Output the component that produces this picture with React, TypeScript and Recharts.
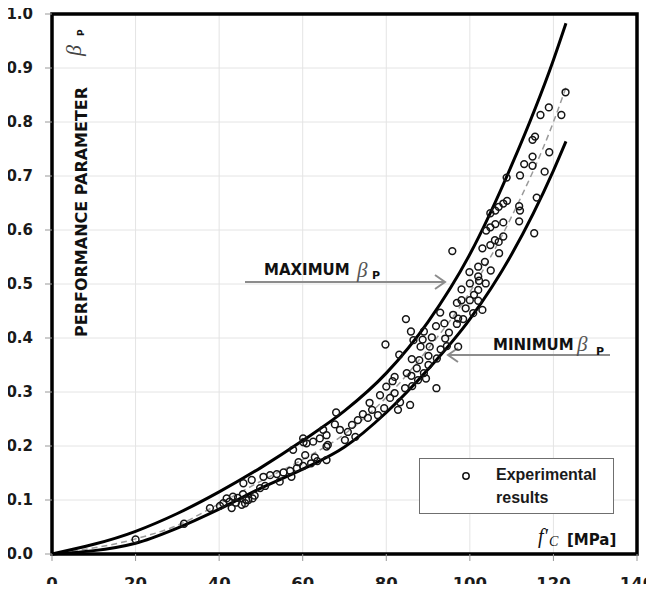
import {
  ComposedChart,
  Line,
  Scatter,
  XAxis,
  YAxis,
  CartesianGrid,
  ReferenceArea,
  Legend,
  Customized,
} from 'recharts';

// f'c [MPa] where the bounding curves were read
const curveFc = [0, 20, 30, 40, 50, 60, 70, 80, 90, 100, 110, 120, 123];
const maxBeta = [0, 0.042, 0.075, 0.115, 0.16, 0.21, 0.265, 0.335, 0.43, 0.555, 0.72, 0.915, 0.983];
const minBeta = [0, 0.02, 0.048, 0.083, 0.122, 0.157, 0.198, 0.262, 0.342, 0.435, 0.555, 0.71, 0.764];
const meanBeta = [0, 0.028, 0.053, 0.093, 0.135, 0.175, 0.222, 0.29, 0.38, 0.485, 0.625, 0.8, 0.864];

// experimental results [f'c, beta_P]
const experimental: [number, number][] = [
  [20, 0.027], [31.6, 0.056], [37.8, 0.085], [40.2, 0.089], [41, 0.094], [41.8, 0.103], [42.5, 0.097],
  [43, 0.085], [43.3, 0.106], [44, 0.095], [44.5, 0.104], [45.4, 0.091], [45.7, 0.111], [46.2, 0.094],
  [46.5, 0.1], [47, 0.1], [48, 0.103], [45.8, 0.131], [47.8, 0.137], [48.5, 0.108], [49.8, 0.122],
  [51, 0.126], [50.6, 0.143], [52.2, 0.146], [53.8, 0.148], [55.4, 0.151], [57, 0.154], [58.6, 0.159],
  [60.1, 0.163], [54.5, 0.134], [57.3, 0.143], [59, 0.17], [62, 0.168], [63.5, 0.172], [57.7, 0.193],
  [60.1, 0.214], [60.2, 0.207], [60.9, 0.205], [62.5, 0.208], [64.1, 0.214], [65.7, 0.22], [64.9, 0.23],
  [60.6, 0.183], [62.9, 0.179], [65.7, 0.174], [65.7, 0.199],
  [66, 0.202], [67.7, 0.24], [68.9, 0.23], [70.1, 0.211], [70.8, 0.226], [71.8, 0.239], [72.6, 0.217],
  [73.2, 0.248], [74.4, 0.259], [75.6, 0.252], [76.6, 0.267], [78, 0.257], [79.5, 0.27], [78.5, 0.294],
  [80.9, 0.289], [82, 0.298], [83.3, 0.281], [84.5, 0.307], [86.2, 0.311], [87.6, 0.322], [85.7, 0.276],
  [82.8, 0.267], [68, 0.262], [76, 0.28], [80, 0.31], [81.5, 0.32], [92, 0.307], [89, 0.335], [89.5, 0.325],
  [86, 0.33],
  [79.8, 0.388], [82, 0.328], [83.1, 0.369], [84.7, 0.435], [84.9, 0.335], [85.9, 0.412], [86.1, 0.361],
  [86.5, 0.396], [87.3, 0.344], [87.9, 0.359], [88.2, 0.384], [88.7, 0.397], [89, 0.412], [90.1, 0.367],
  [90.1, 0.35], [90.4, 0.384], [90.9, 0.401], [91.9, 0.422], [92.1, 0.362], [92.9, 0.447], [93, 0.379],
  [93.9, 0.427], [94.1, 0.399], [94.5, 0.385], [95, 0.41], [95.8, 0.561], [96, 0.443], [96.9, 0.465],
  [96.9, 0.426], [97.2, 0.436], [97.2, 0.384], [98, 0.49], [98, 0.47], [98.4, 0.435], [99, 0.455],
  [99.9, 0.522], [100, 0.501], [100, 0.47], [100.8, 0.446], [101, 0.48], [102, 0.532], [102, 0.514],
  [102, 0.489], [102, 0.469], [102.2, 0.506], [103, 0.452], [103, 0.566], [103.6, 0.541], [103.8, 0.501],
  [104.9, 0.572], [105, 0.525], [106.9, 0.578], [107, 0.557], [106, 0.581],
  [103.9, 0.599], [104.9, 0.605], [106.1, 0.611], [108, 0.614], [111.8, 0.616], [104.9, 0.631],
  [106.1, 0.636], [106.9, 0.643], [108, 0.649], [108.9, 0.654], [111.8, 0.644], [112, 0.636],
  [108, 0.588], [115.4, 0.594], [116, 0.66], [108.8, 0.697], [112, 0.701], [117.9, 0.708], [115, 0.719],
  [113, 0.722], [115, 0.736], [119, 0.744], [115, 0.767], [115.6, 0.773], [116.9, 0.813], [118.9, 0.827],
  [121.9, 0.813], [122.9, 0.855],
];

const xTicks = [0, 20, 40, 60, 80, 100, 120, 140];
const yTicks = [0, 0.1, 0.2, 0.3, 0.4, 0.5, 0.6, 0.7, 0.8, 0.9, 1.0];

const maxData = curveFc.map((x, i) => ({ x, y: maxBeta[i] }));
const minData = curveFc.map((x, i) => ({ x, y: minBeta[i] }));
const meanData = curveFc.map((x, i) => ({ x, y: meanBeta[i] }));
const pointData = experimental.map(([x, y]) => ({ x, y }));

const SANS = '"DejaVu Sans", Arial, sans-serif';
const SERIF = '"Liberation Serif", "DejaVu Serif", serif';
const GREY = '#8c8c8c';

const Dot = (props: any) => (
  <circle cx={props.cx} cy={props.cy} r={3.4} fill="none" stroke="#151515" strokeWidth={1.5} />
);

// x tick label, baseline pinned just above the page bottom
const XTick = (props: any) => (
  <text x={props.x} y={589} textAnchor="middle" fontFamily={SANS} fontWeight={700} fontSize={16.5} fill="#1a1a1a">
    {props.payload.value}
  </text>
);

// chart covers the whole page, so these are page pixels
function Annotations() {
  return (
    <g>
      <line x1={7.5} y1={0} x2={7.5} y2={292} stroke="#000" strokeWidth={1} />

      {/* y axis title */}
      <text transform="translate(86.5,337) rotate(-90)" fontFamily={SANS} fontWeight={700} fontSize={16} fill="#111">
        PERFORMANCE PARAMETER
      </text>
      <text transform="translate(81,56) rotate(-90)" fontFamily={SERIF} fontStyle="italic" fontSize={22} fill="#444">
        β
      </text>
      <text transform="translate(84,36) rotate(-90)" fontFamily={SANS} fontWeight={700} fontSize={9} fill="#111">
        P
      </text>

      {/* maximum arrow */}
      <line x1={245} y1={282} x2={445} y2={282} stroke={GREY} strokeWidth={2} />
      <polyline points="435,275 445,282 435,289" fill="none" stroke={GREY} strokeWidth={2} />
      <text x={264} y={275} fontFamily={SANS} fontWeight={700} fontSize={15} fill="#111">MAXIMUM</text>
      <text x={357} y={277} fontFamily={SERIF} fontStyle="italic" fontSize={21} fill="#555">β</text>
      <text x={372} y={279} fontFamily={SANS} fontWeight={700} fontSize={11} fill="#111">P</text>

      {/* minimum arrow */}
      <line x1={448} y1={355} x2={610} y2={355} stroke={GREY} strokeWidth={2} />
      <polyline points="458,348 448,355 458,362" fill="none" stroke={GREY} strokeWidth={2} />
      <text x={493} y={350} fontFamily={SANS} fontWeight={700} fontSize={15} fill="#111">MINIMUM</text>
      <text x={577} y={351} fontFamily={SERIF} fontStyle="italic" fontSize={21} fill="#555">β</text>
      <text x={596} y={355} fontFamily={SANS} fontWeight={700} fontSize={11} fill="#111">P</text>

      {/* x axis title */}
      <text x={538} y={543} fontFamily={SERIF} fontStyle="italic" fontSize={20} fill="#111">f'</text>
      <text x={549} y={546} fontFamily={SERIF} fontStyle="italic" fontSize={14} fill="#111">C</text>
      <text x={567} y={545} fontFamily={SANS} fontWeight={700} fontSize={15} fill="#111">[MPa]</text>
    </g>
  );
}

function LegendBox() {
  return (
    <div
      style={{
        position: 'relative',
        width: 195,
        height: 56,
        boxSizing: 'border-box',
        border: '1px solid #6f6f6f',
        background: '#fff',
        fontFamily: '"Liberation Sans", Arial, sans-serif',
        fontWeight: 700,
        fontSize: 16,
        color: '#1a1a1a',
        lineHeight: '22px',
      }}
    >
      <svg width={12} height={12} style={{ position: 'absolute', left: 40, top: 11 }}>
        <circle cx={6} cy={6} r={3.2} fill="none" stroke="#151515" strokeWidth={1.5} />
      </svg>
      <div style={{ position: 'absolute', left: 76, top: 5 }}>Experimental</div>
      <div style={{ position: 'absolute', left: 76, top: 28 }}>results</div>
    </div>
  );
}

export default function App() {
  return (
    <div style={{ position: 'relative', width: 654, height: 592, margin: -8 }}>
      <ComposedChart width={654} height={592} margin={{ top: 14, right: 17, bottom: 8, left: 8 }}>
        <CartesianGrid stroke="#e4e4e4" strokeWidth={1} />
        <XAxis
          type="number"
          dataKey="x"
          domain={[0, 140]}
          ticks={xTicks}
          height={30}
          axisLine={false}
          tickSize={7}
          tickLine={{ stroke: '#999' }}
          tick={XTick}
        />
        <YAxis
          type="number"
          dataKey="y"
          domain={[0, 1]}
          ticks={yTicks}
          width={44}
          axisLine={false}
          tickSize={7}
          tickMargin={12}
          tickLine={{ stroke: '#999' }}
          tickFormatter={(v: number) => v.toFixed(1)}
          tick={{ fontFamily: SANS, fontWeight: 700, fontSize: 15, fill: '#1a1a1a' }}
        />
        <Line data={meanData} dataKey="y" type="monotone" stroke="#9a9a9a" strokeWidth={1.5} strokeDasharray="6 4" dot={false} isAnimationActive={false} />
        <Line data={maxData} dataKey="y" type="monotone" stroke="#000" strokeWidth={3} dot={false} isAnimationActive={false} />
        <Line data={minData} dataKey="y" type="monotone" stroke="#000" strokeWidth={3} dot={false} isAnimationActive={false} />
        <Scatter data={pointData} dataKey="y" shape={Dot} isAnimationActive={false} />
        <ReferenceArea x1={0} x2={140} y1={0} y2={1} fill="none" fillOpacity={0} stroke="#000" strokeWidth={3.5} ifOverflow="visible" />
        <Customized component={Annotations} />
        <Legend
          layout="vertical"
          align="center"
          verticalAlign="middle"
          content={() => <LegendBox />}
          wrapperStyle={{ left: 419, top: 458, width: 195, height: 56 }}
        />
      </ComposedChart>
    </div>
  );
}
